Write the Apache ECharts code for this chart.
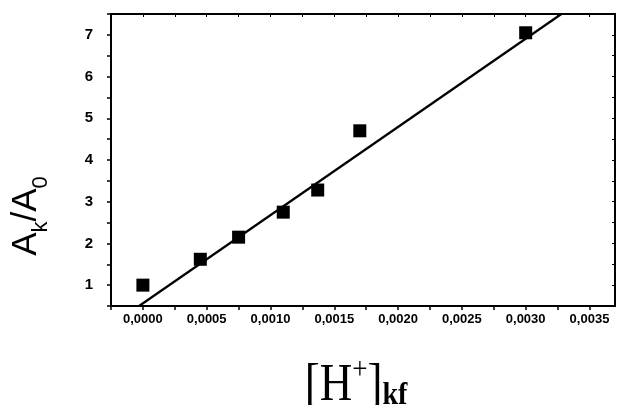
<!DOCTYPE html>
<html><head><meta charset="utf-8">
<script src="https://cdn.jsdelivr.net/npm/echarts@6/dist/echarts.min.js"></script>
<style>html,body{margin:0;padding:0;background:#fff}#c{width:618px;height:405px}</style>
</head><body><div id="c"></div>
<script>
const hConc = [0.0, 0.00045, 0.00075, 0.0011, 0.00137, 0.0017, 0.0030];
const ratio = [1.0, 1.62, 2.15, 2.75, 3.28, 4.7, 7.05];
const fitX = [-0.00003, 0.00328];
const fitY = [0.5, 7.5];
const xTicks = ['0,0000','0,0005','0,0010','0,0015','0,0020','0,0025','0,0030','0,0035'];
const yTicks = ['1','2','3','4','5','6','7'];

const chart = echarts.init(document.getElementById('c'));
const lblFont = {color:'#000', fontFamily:'Liberation Sans, Arial', fontWeight:'bold'};
function xFmt(v){
  const k = Math.round(v/0.0005*1e6)/1e6;
  if (Math.abs(k-Math.round(k))<1e-6 && Math.round(k)>=0) return xTicks[Math.round(k)] || '';
  return '';
}
function yFmt(v){
  if (Math.abs(v-Math.round(v))<1e-6) return yTicks[Math.round(v)-1] || '';
  return '';
}
chart.setOption({
  animation:false,
  backgroundColor:'#fff',
  grid:{left:111, right:3, top:14, bottom:99, show:true, borderColor:'#000', borderWidth:2},
  xAxis:[{
    type:'value', min:-0.00025, max:0.0037, interval:0.00025,
    axisLine:{onZero:false, lineStyle:{color:'#000', width:2}},
    axisTick:{lineStyle:{color:'#000', width:1.5}, length:4},
    splitLine:{show:false},
    axisLabel:{...lblFont, fontSize:13, formatter:xFmt, margin:7, showMaxLabel:false}
  },{
    type:'value', position:'top', min:-0.00025, max:0.0037, interval:0.00025,
    axisLine:{onZero:false, lineStyle:{color:'#000', width:2}},
    axisTick:{inside:true, length:3, lineStyle:{color:'#000'}},
    axisLabel:{show:false}, splitLine:{show:false}
  }],
  yAxis:[{
    type:'value', min:0.5, max:7.5, interval:0.5,
    axisLine:{onZero:false, lineStyle:{color:'#000', width:2}},
    axisTick:{lineStyle:{color:'#000', width:1.5}, length:4},
    splitLine:{show:false},
    axisLabel:{...lblFont, fontSize:15, formatter:yFmt, margin:18}
  },{
    type:'value', position:'right', min:0.5, max:7.5, interval:0.5,
    axisLine:{onZero:false, lineStyle:{color:'#000', width:2}},
    axisTick:{inside:true, length:3, lineStyle:{color:'#000'}},
    axisLabel:{show:false}, splitLine:{show:false}
  }],
  series:[
    {type:'line', data:fitX.map((x,i)=>[x,fitY[i]]), symbol:'none',
     lineStyle:{color:'#000', width:2.2}, silent:true},
    {type:'scatter', data:hConc.map((x,i)=>[x,ratio[i]]), symbol:'rect', symbolSize:13,
     itemStyle:{color:'#000', opacity:1}}
  ],
  graphic:[
    {type:'text', x:26, y:216, rotation:Math.PI/2,
     style:{text:'{a|A}{s|k}{a|/A}{s|0}', align:'center', verticalAlign:'middle', rich:{
       a:{fontSize:35, fontFamily:'Liberation Sans, Arial', fill:'#000', verticalAlign:'bottom'},
       s:{fontSize:22, fontFamily:'Liberation Sans, Arial', fill:'#000', verticalAlign:'bottom', padding:[0,0,-8,0]}
     }}},
    {type:'text', x:356, y:386, scaleY:1.15,
     style:{text:'{a|[H}{p|+}{a|]}{s|kf}', align:'center', verticalAlign:'middle', rich:{
       a:{fontSize:45, fontFamily:'Liberation Serif, Times New Roman', fill:'#000'},
       p:{fontSize:27, fontFamily:'Liberation Serif', fill:'#000', padding:[0,0,26,0]},
       s:{fontSize:28, fontFamily:'Liberation Serif', fontWeight:'bold', fill:'#000', padding:[16,0,0,0]}
     }}}
  ]
});
</script></body></html>
